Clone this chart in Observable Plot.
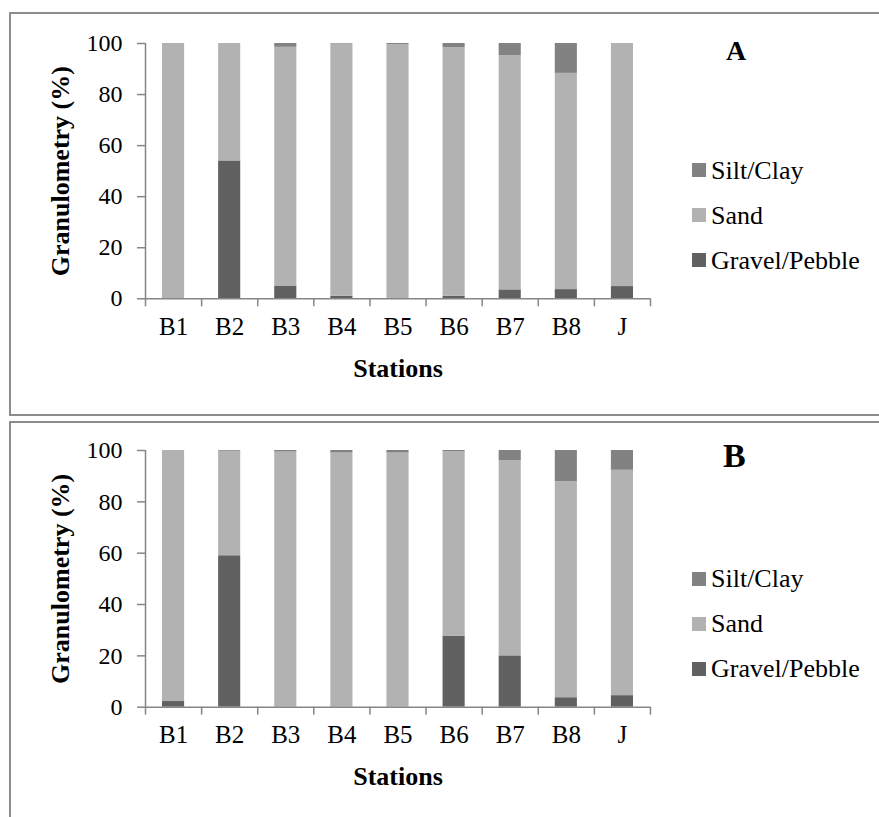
<!DOCTYPE html>
<html>
<head>
<meta charset="utf-8">
<script src="https://cdn.jsdelivr.net/npm/d3@7"></script>
<script src="https://cdn.jsdelivr.net/npm/@observablehq/plot@0.6"></script>
<style>
  html, body { margin: 0; padding: 0; background: #fff; }
  #root { position: relative; width: 879px; height: 817px; overflow: hidden; background: #fff;
          font-family: "Liberation Serif", "Times New Roman", serif; color: #000; }
  .frame { position: absolute; left: 9px; width: 900px; border: 2px solid #8c8c8c; border-right: none; }
  .chart { position: absolute; left: 0; }
  .legend { position: absolute; left: 692px; }
  .item { display: flex; align-items: center; height: 45px; font-size: 26px; line-height: 45px; white-space: nowrap; }
  .swatch { width: 14px; height: 14px; margin-right: 5px; flex: none; }
  .letter { position: absolute; font-weight: bold; line-height: 1; }
</style>
</head>
<body>
<div id="root">
  <div class="frame" style="top:12px;height:400px"></div>
  <div class="frame" style="top:421px;height:500px"></div>
</div>
<script>
// ---- data ----
const stations = ["B1", "B2", "B3", "B4", "B5", "B6", "B7", "B8", "J"];
const types = ["Gravel/Pebble", "Sand", "Silt/Clay"];          // stacking order (bottom -> top)
const legendOrder = ["Silt/Clay", "Sand", "Gravel/Pebble"];
const colors = ["#616161", "#b2b2b2", "#828282"];
const yTicks = [0, 20, 40, 60, 80, 100];
const yTitle = "Granulometry (%)";
const xTitle = "Stations";
const panelLabels = ["A", "B"];

// Panel A
const gravelA = [0, 54, 5, 1, 0, 1, 3.5, 3.6, 4.8];
const sandA   = [100, 46, 93.5, 98.8, 99.5, 97.4, 91.7, 84.7, 95.2];
const siltA   = [0, 0, 1.5, 0.2, 0.5, 1.6, 4.8, 11.7, 0];

// Panel B
const gravelB = [2.2, 59, 0, 0, 0, 27.7, 20, 3.7, 4.5];
const sandB   = [97.8, 40.7, 99.4, 99, 99, 71.8, 76, 84.2, 87.8];
const siltB   = [0, 0.3, 0.6, 1, 1, 0.5, 4, 12.1, 7.7];

// ---- build ----
function rows(gravel, sand, silt) {
  const series = [gravel, sand, silt];
  return stations.flatMap((st, i) => types.map((t, k) => ({station: st, i, type: t, value: series[k][i]})));
}

const axisColor = "#868686";

function panel(data, cfg) {
  return Plot.plot({
    width: 680,
    height: cfg.height,
    marginLeft: 145,
    marginRight: 30,
    marginTop: cfg.top,
    marginBottom: cfg.height - cfg.bottom,
    style: {fontFamily: "'Liberation Serif', 'Times New Roman', serif", fontSize: "25px", color: "#000", background: "transparent", overflow: "visible"},
    x: {domain: [0, stations.length], axis: null},
    y: {domain: [0, 100], axis: null},
    color: {domain: types, range: colors},
    marks: [
      Plot.rectY(data, Plot.stackY({x1: "i", x2: d => d.i + 1, y: "value", fill: "type", insetLeft: 17, insetRight: 17})),
      Plot.ruleY([0], {stroke: axisColor, strokeWidth: 1.5}),
      Plot.ruleX([0], {y1: 0, y2: 100, stroke: axisColor, strokeWidth: 1.5}),
      Plot.axisY(yTicks, {tickSize: 8, tickPadding: 15, stroke: axisColor, strokeWidth: 1.5, fill: "#000", fontSize: 24, label: null}),
      Plot.axisX(d3.range(stations.length + 1), {tickSize: 8, tickFormat: () => "", stroke: axisColor, strokeWidth: 1.5, label: null}),
      Plot.axisX(stations.map((s, i) => i + 0.5), {tickSize: 0, tickPadding: 18, tickFormat: v => stations[Math.floor(v)], fill: "#000", fontSize: 25, label: null}),
      Plot.text([xTitle], {frameAnchor: "bottom", dy: 78, fontWeight: "bold", fontSize: 26, fill: "#000"}),
      Plot.text([yTitle], {frameAnchor: "left", textAnchor: "middle", rotate: -90, dx: -85, fontWeight: "bold", fontSize: 26, fill: "#000"})
    ]
  });
}

const root = document.getElementById("root");
const panels = [
  {data: rows(gravelA, sandA, siltA), svgTop: 0, cfg: {height: 400, top: 43, bottom: 298.3}, legendTop: 147.5, letter: {left: 726, top: 37, size: 28}},
  {data: rows(gravelB, sandB, siltB), svgTop: 407, cfg: {height: 400, top: 43, bottom: 299.7}, legendTop: 556, letter: {left: 723, top: 439, size: 34}}
];

panels.forEach((p, n) => {
  const chart = panel(p.data, p.cfg);
  chart.classList.add("chart");
  chart.style.top = p.svgTop + "px";
  chart.style.position = "absolute";
  root.appendChild(chart);

  const legend = document.createElement("div");
  legend.className = "legend";
  legend.style.top = p.legendTop + "px";
  legendOrder.forEach(t => {
    const item = document.createElement("div");
    item.className = "item";
    const sw = document.createElement("span");
    sw.className = "swatch";
    sw.style.background = colors[types.indexOf(t)];
    const label = document.createElement("span");
    label.textContent = t;
    item.appendChild(sw);
    item.appendChild(label);
    legend.appendChild(item);
  });
  root.appendChild(legend);

  const letter = document.createElement("div");
  letter.className = "letter";
  letter.style.left = p.letter.left + "px";
  letter.style.top = p.letter.top + "px";
  letter.style.fontSize = p.letter.size + "px";
  letter.textContent = panelLabels[n];
  root.appendChild(letter);
});
</script>
</body>
</html>
